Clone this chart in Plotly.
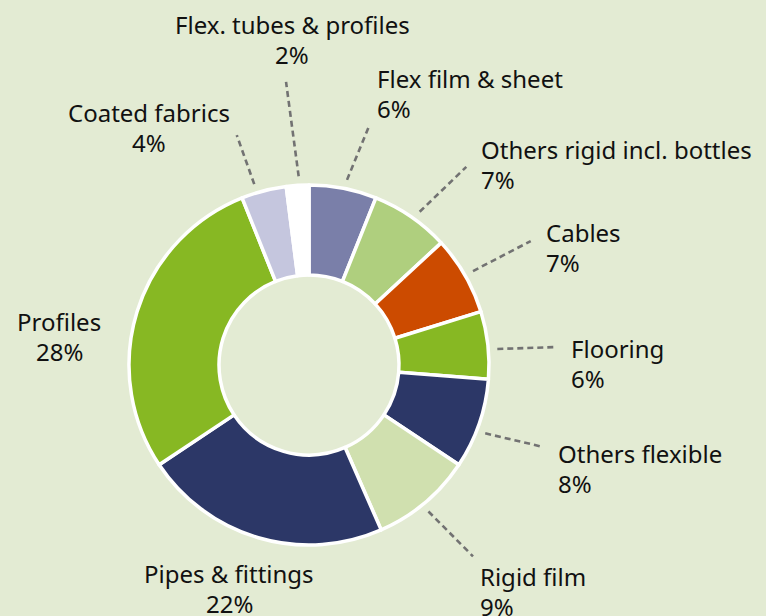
import math
import plotly.graph_objects as go

# ---- data ----
labels = ["Flex film & sheet", "Others rigid incl. bottles", "Cables", "Flooring",
          "Others flexible", "Rigid film", "Pipes & fittings", "Profiles",
          "Coated fabrics", "Flex. tubes & profiles"]
values = [6, 7, 7, 6, 8, 9, 22, 28, 4, 2]
pct_text = ["6%", "7%", "7%", "6%", "8%", "9%", "22%", "28%", "4%", "2%"]

# ---- style ----
colors = ["#7a7fa9", "#afcf7e", "#cc4b00", "#87b823", "#2c3767",
          "#d0e0af", "#2c3767", "#87b823", "#c5c6de", "#ffffff"]
BG = "#e3ebd3"
W, H = 766, 616
CX, CY, R = 309, 365, 180
HOLE = 0.5
FONT = "Noto Sans"
FS = 24
LINE_GAP = 30

# leader geometry relative to slice mid-angle: start radius, end radius, angle tweaks (deg)
leader_r0 = 189
leader_r1 = [246, 253, 254, 246, 248, 252, None, None, 241, 284]
leader_da0 = [0.7, 1.3, 0.2, 1.5, 2.1, 0.8, 0, 0, -2.3, 0.5]
leader_da1 = [3.2, 3.9, 0.8, 2.2, 0.2, -0.6, 0, 0, -2.9, -1.0]
virtual_r = [None, None, None, None, None, None, 240, 250, None, None]
# label offset (dx, dy) from leader end to middle of first text line
label_off = [(6, -48), (13, -17.5), (13, -9), (15, 1), (13, 7), (5, 20),
             (-12, -22), (-11, 31), (-88, -23), (6, -57)]
label_anchor = ["left", "left", "left", "left", "left", "left",
                "center", "center", "center", "center"]

fig = go.Figure()
fig.add_trace(go.Pie(
    labels=labels, values=values, sort=False, direction="clockwise", rotation=0,
    hole=HOLE, textinfo="none", hoverinfo="label+percent",
    marker=dict(colors=colors, line=dict(color="white", width=3.5)),
    showlegend=False,
    domain=dict(x=[(CX - R) / W, (CX + R) / W], y=[1 - (CY + R) / H, 1 - (CY - R) / H]),
))

total = sum(values)
cum = 0
shapes = []
annotations = []
for i, v in enumerate(values):
    mid = (cum + v / 2) / total * 360
    cum += v

    def pt(r, deg):
        t = math.radians(deg)
        return CX + r * math.sin(t), CY - r * math.cos(t)

    if leader_r1[i] is not None:
        x0, y0 = pt(leader_r0, mid + leader_da0[i])
        x1, y1 = pt(leader_r1[i], mid + leader_da1[i])
        shapes.append(dict(type="line", xref="x", yref="y", x0=x0, y0=y0, x1=x1, y1=y1,
                           line=dict(color="#727272", width=2.6, dash="6px,4px")))
        ex, ey = x1, y1
    else:
        ex, ey = pt(virtual_r[i], mid)
    dx, dy = label_off[i]
    tx, ty = ex + dx, ey + dy
    for k, txt in enumerate([labels[i], pct_text[i]]):
        annotations.append(dict(
            x=tx, y=ty + k * LINE_GAP, xref="x", yref="y", text=txt, showarrow=False,
            xanchor=label_anchor[i], yanchor="middle",
            font=dict(family=FONT, size=FS, color="#111111")))

fig.update_layout(
    width=W, height=H, margin=dict(l=0, r=0, t=0, b=0),
    paper_bgcolor=BG, plot_bgcolor=BG,
    xaxis=dict(range=[0, W], visible=False, fixedrange=True),
    yaxis=dict(range=[H, 0], visible=False, fixedrange=True),
    shapes=shapes, annotations=annotations,
)
fig.write_html("out.html", config={"displayModeBar": False},
               post_script="document.body.style.margin='0';document.body.style.overflow='hidden';")
